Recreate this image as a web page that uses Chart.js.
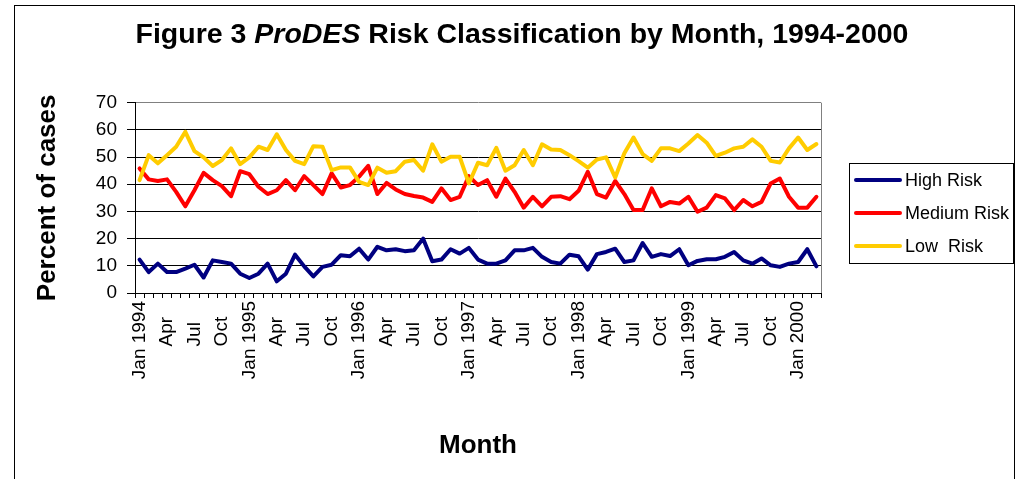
<!DOCTYPE html>
<html><head><meta charset="utf-8">
<script src="https://cdn.jsdelivr.net/npm/chart.js@4/dist/chart.umd.min.js"></script>
<style>html,body{margin:0;padding:0;background:#fff;}#wrap{width:1018px;height:479px;position:relative;}</style>
</head><body><div id="wrap"><canvas id="c" width="1018" height="479"></canvas></div>
<script>
const categories = [
 'Jan 1994','Feb','Mar','Apr','May','Jun','Jul','Aug','Sep','Oct','Nov','Dec',
 'Jan 1995','Feb','Mar','Apr','May','Jun','Jul','Aug','Sep','Oct','Nov','Dec',
 'Jan 1996','Feb','Mar','Apr','May','Jun','Jul','Aug','Sep','Oct','Nov','Dec',
 'Jan 1997','Feb','Mar','Apr','May','Jun','Jul','Aug','Sep','Oct','Nov','Dec',
 'Jan 1998','Feb','Mar','Apr','May','Jun','Jul','Aug','Sep','Oct','Nov','Dec',
 'Jan 1999','Feb','Mar','Apr','May','Jun','Jul','Aug','Sep','Oct','Nov','Dec',
 'Jan 2000','Feb','Mar'];
const highRisk = [12.3,7.7,10.8,7.7,7.7,9.0,10.4,5.7,12.0,11.4,10.8,7.1,5.5,7.1,10.8,4.3,
 7.1,14.1,9.8,6.1,9.6,10.4,13.9,13.5,16.3,12.3,17.0,15.7,16.1,15.4,
 15.7,20.0,11.7,12.3,16.1,14.5,16.6,12.3,10.8,10.8,12.0,15.7,15.7,16.6,13.3,
 11.4,10.8,14.1,13.5,8.6,14.3,15.1,16.3,11.4,12.0,18.4,13.3,14.3,13.6,16.1,
 10.2,11.8,12.4,12.4,13.3,15.1,12.0,10.8,12.7,10.2,9.6,10.8,11.4,16.1,9.8];
const mediumRisk = [45.8,41.8,41.2,41.8,37.2,31.9,37.8,44.2,41.5,39.3,35.6,44.8,43.7,39.1,36.4,37.8,
 41.5,37.8,43.0,39.7,36.4,44.0,38.8,39.7,42.8,46.8,36.4,40.5,38.1,36.4,
 35.7,35.1,33.5,38.5,34.2,35.4,43.0,39.7,41.5,35.4,42.1,37.2,31.4,35.4,31.9,
 35.4,35.6,34.5,37.6,44.6,36.4,35.1,41.2,36.4,30.5,30.5,38.5,31.9,33.5,32.9,
 35.4,29.9,31.4,36.0,34.8,30.5,34.2,31.9,33.5,40.3,42.1,35.4,31.4,31.4,35.4];
const lowRisk = [41.5,50.7,47.7,50.7,53.8,59.3,52.2,49.9,46.7,48.9,53.2,47.4,49.9,53.8,52.6,58.4,
 52.6,48.6,47.4,54.0,53.8,45.2,46.2,46.2,40.9,39.7,46.1,44.2,44.8,48.3,
 48.9,45.0,54.7,48.3,50.1,50.1,40.3,47.9,47.0,53.4,45.0,47.0,52.6,47.0,54.7,
 52.8,52.6,50.7,48.5,46.1,49.1,49.9,42.5,51.4,57.2,51.1,48.6,53.2,53.2,52.2,
 55.0,58.1,55.3,50.4,51.6,53.2,53.8,56.5,53.8,48.6,48.0,53.2,57.2,52.6,54.8];
const yTickValues = [0,10,20,30,40,50,60,70];
const seriesNames = ['High Risk','Medium Risk','Low  Risk'];
const seriesColors = ['#000080','#FF0000','#FFCC00'];
const titleParts = [['Figure 3 ',false],['ProDES',true],[' Risk Classification by Month, 1994-2000',false]];
const xTitle = 'Month';
const yTitle = 'Percent of cases';

const FAM = '"Liberation Sans", Arial, Helvetica, sans-serif';

const framePlugin = {
  id:'frame',
  beforeDraw(chart){
    const c = chart.ctx;
    c.save();
    c.fillStyle='#fff'; c.fillRect(0,0,chart.width,chart.height);
    c.strokeStyle='#000'; c.lineWidth=1;
    c.strokeRect(14.5,5.5,1000,520);
    c.restore();
  },
  beforeDatasetsDraw(chart){
    const c = chart.ctx, a = chart.chartArea;
    c.save(); c.strokeStyle='#808080'; c.lineWidth=1;
    c.beginPath(); c.moveTo(Math.round(a.right)+0.5,a.top); c.lineTo(Math.round(a.right)+0.5,a.bottom); c.stroke();
    c.restore();
  },
  afterDraw(chart){
    const c = chart.ctx;
    c.save();
    const size = 28.5;
    c.fillStyle='#000'; c.textBaseline='alphabetic';
    let total = 0;
    const widths = titleParts.map(([t,it])=>{c.font=(it?'italic ':'')+'bold '+size+'px '+FAM; const w=c.measureText(t).width; total+=w; return w;});
    let x = 522 - total/2;
    titleParts.forEach(([t,it],i)=>{c.font=(it?'italic ':'')+'bold '+size+'px '+FAM; c.textAlign='left'; c.fillText(t,x,43); x+=widths[i];});
    c.strokeStyle='#000'; c.lineWidth=1;
    c.strokeRect(849.5,163.5,164,100);
    const ys=[180,213,246];
    c.font='18px '+FAM; c.textBaseline='middle';
    seriesNames.forEach((n,i)=>{
      c.strokeStyle=seriesColors[i]; c.lineWidth=4; c.lineCap='round';
      c.beginPath(); c.moveTo(856,ys[i]); c.lineTo(900,ys[i]); c.stroke();
      c.fillStyle='#000'; c.fillText(n,905,ys[i]+1);
    });
    c.restore();
  }
};

new Chart(document.getElementById('c'),{
  type:'line',
  data:{labels:categories,datasets:[
    {label:seriesNames[0],data:highRisk,borderColor:seriesColors[0],backgroundColor:seriesColors[0],order:2},
    {label:seriesNames[1],data:mediumRisk,borderColor:seriesColors[1],backgroundColor:seriesColors[1],order:1},
    {label:seriesNames[2],data:lowRisk,borderColor:seriesColors[2],backgroundColor:seriesColors[2],order:0}
  ]},
  options:{
    responsive:false, animation:false, devicePixelRatio:1,
    layout:{padding:{left:0,right:197,top:102.7,bottom:0}},
    plugins:{legend:{display:false},title:{display:false},tooltip:{enabled:false}},
    elements:{point:{radius:0},line:{borderWidth:4,tension:0,borderCapStyle:'round',borderJoinStyle:'round'}},
    scales:{
      x:{type:'category',offset:true,
        grid:{offset:true,drawOnChartArea:false,drawTicks:true,tickLength:5,color:'#000',tickColor:'#000'},
        border:{display:true,color:'#000',width:1},
        ticks:{autoSkip:false,maxRotation:90,minRotation:90,padding:3,color:'#000',font:{family:FAM,size:19},
          callback:(v,i)=>{ if(i%3!==0) return ''; const l=categories[i]; if(l.length>3) return l; return l+(l==='Jul'?'    ':'   '); }},
        title:{display:true,text:xTitle,color:'#000',font:{family:FAM,size:26,weight:'bold'},padding:{top:0,bottom:18}},
        afterFit(s){ s.height=479-293; }
      },
      y:{min:0,max:70,
        afterBuildTicks(s){ s.ticks = yTickValues.map(v=>({value:v})); },
        ticks:{padding:10,color:'#000',font:{family:FAM,size:19}},
        grid:{color:(ctx)=>(ctx.tick && ctx.tick.value===70)?'#808080':'#000',tickColor:'#000',tickLength:8,drawTicks:true},
        border:{display:true,color:'#000',width:1},
        title:{display:true,text:yTitle,color:'#000',font:{family:FAM,size:26,weight:'bold'},padding:{top:32,bottom:0}},
        afterFit(s){ s.width=135; }
      }
    }
  },
  plugins:[framePlugin]
});
</script></body></html>
